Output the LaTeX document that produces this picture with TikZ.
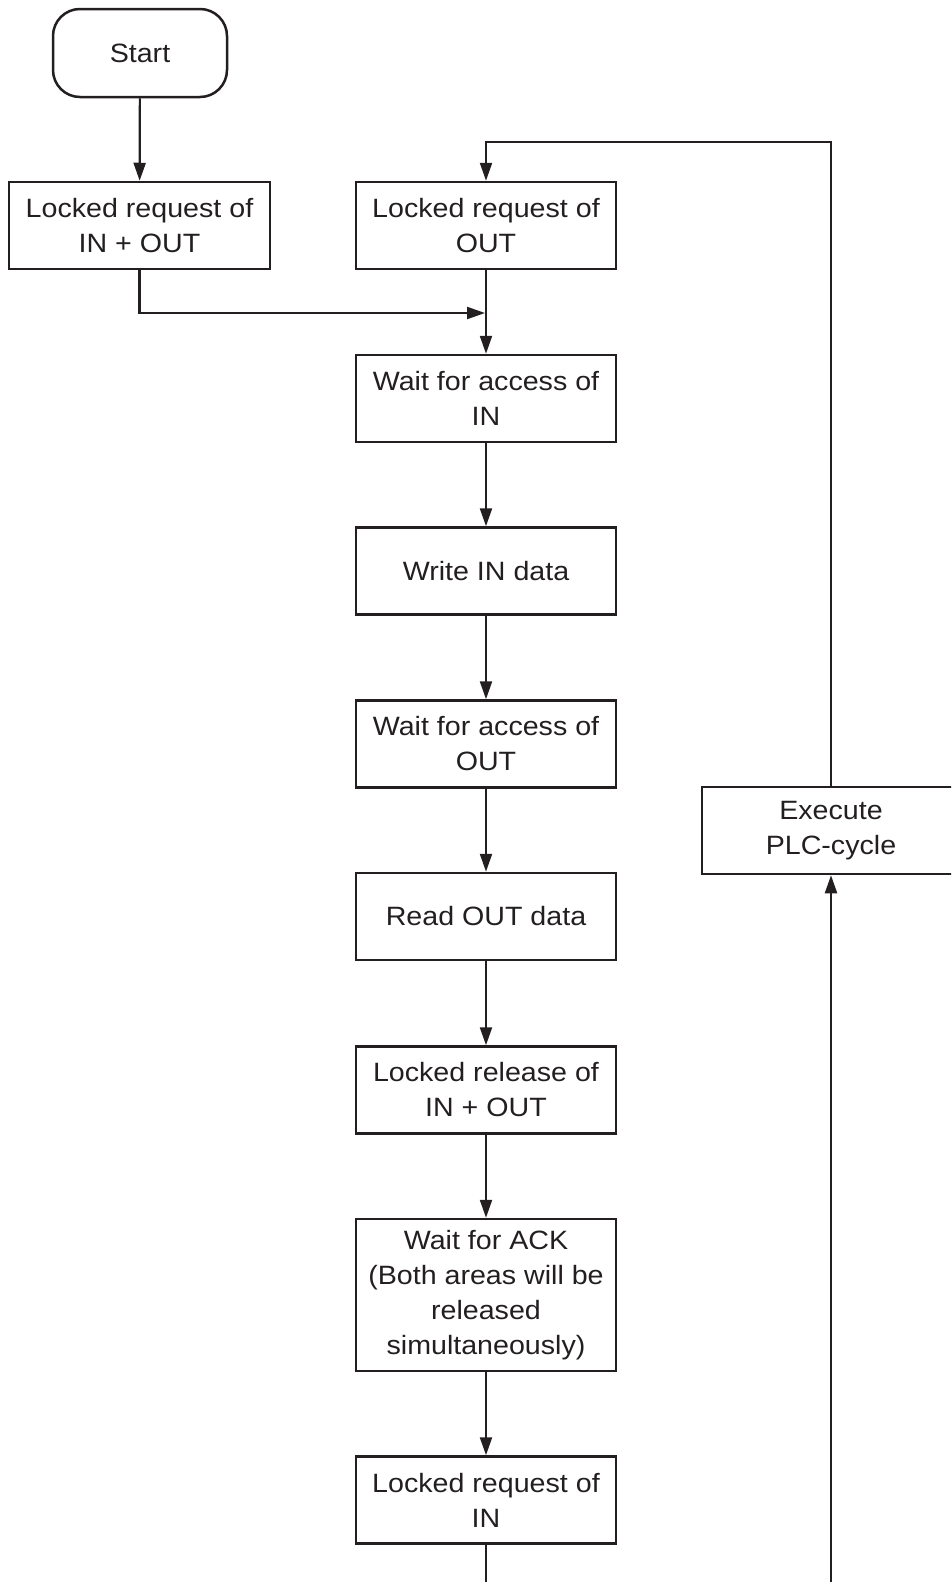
\documentclass[tikz,border=0pt]{standalone}
\usepackage{fontspec}
\setmainfont{Liberation Sans}[FakeStretch=1.08]
\usetikzlibrary{arrows.meta}
\definecolor{ink}{RGB}{35,31,32}
\begin{document}
\begin{tikzpicture}[x=1pt,y=-1pt,
  every node/.style={font=\fontsize{26.5}{35}\selectfont, text=ink},
  box/.style={draw=ink, line width=2.5pt, rectangle, minimum width=260pt,
    minimum height=87pt, align=center, inner sep=0pt},
  termbox/.style={box, rounded corners=27pt, minimum width=174pt, minimum height=88pt},
  flow/.style={draw=ink, line width=2.2pt, -{Triangle[length=18pt,width=12pt]}},
  wire/.style={draw=ink, line width=2.2pt}]
\clip (0,0) rectangle (951,1582);

% terminal and process steps
\node[termbox] (start) at (140,53) {Start};
\node[box, minimum width=261pt] (reqio) at (139.5,225.5) {Locked request of\\IN + OUT};
\node[box] (reqout) at (486,225.5) {Locked request of\\OUT};
\node[box] (waitin) at (486,398.5) {Wait for access of\\IN};
\node[box] (writein) at (486,571) {Write IN data};
\node[box] (waitout) at (486,744) {Wait for access of\\OUT};
\node[box] (readout) at (486,916.5) {Read OUT data};
\node[box] (release) at (486,1090) {Locked release of\\IN + OUT};
\node[box, minimum height=152pt] (ack) at (486,1295) {Wait for ACK\\(Both areas will be\\released\\simultaneously)};
\node[box] (reqin) at (486,1500) {Locked request of\\IN};
\node[box, minimum width=258pt] (plc) at (831,830.5) {Execute\\PLC-cycle};

% routing points
\coordinate (merge) at (485,313);
\coordinate (looptop) at (831,142);
\coordinate (botL) at (486,1582);
\coordinate (botR) at (831,1582);

% connectors
\draw[flow] (start) -- (reqio);
\draw[flow] (reqio.south) |- (merge);
\draw[flow] (reqout) -- (waitin);
\draw[flow] (waitin) -- (writein);
\draw[flow] (writein) -- (waitout);
\draw[flow] (waitout) -- (readout);
\draw[flow] (readout) -- (release);
\draw[flow] (release) -- (ack);
\draw[flow] (ack) -- (reqin);
\draw[wire] (reqin.south) -- (botL);
\draw[flow] (botR) -- (plc.south);
\draw[flow] (plc.north) -- (looptop) -| (reqout.north);
\end{tikzpicture}
\end{document}
